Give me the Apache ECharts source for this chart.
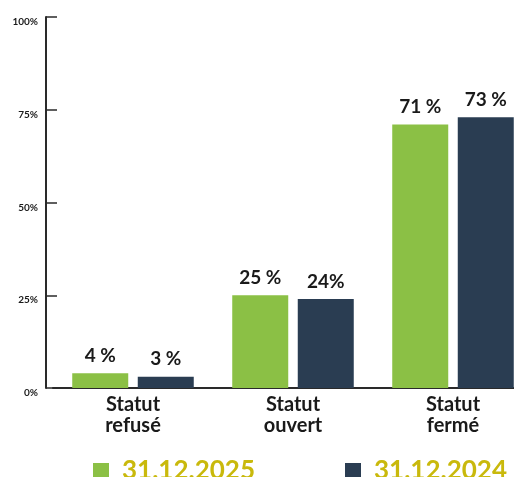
<!DOCTYPE html>
<html>
<head>
<meta charset="utf-8">
<script src="https://cdn.jsdelivr.net/npm/echarts@6/dist/echarts.min.js"></script>
<style>
  html, body { margin: 0; padding: 0; background: #fff; }
  #chart { width: 514px; height: 477px; }
</style>
</head>
<body>
<div id="chart"></div>
<script>
  var categories = ['Statut\nrefusé', 'Statut\nouvert', 'Statut\nfermé'];
  var values2025 = [4, 25, 71];
  var values2024 = [3, 24, 73];
  var labels2025 = ['4 %', '25 %', '71 %'];
  var labels2024 = ['3 %', '24%', '73 %'];
  var seriesNames = ['31.12.2025', '31.12.2024'];
  var yTicks = [0, 25, 50, 75, 100];

  var chart = echarts.init(document.getElementById('chart'));

  function barLabel(texts) {
    return {
      show: true,
      position: 'top',
      distance: 8,
      color: '#1a1a1a',
      fontFamily: 'Lato',
      fontWeight: 'bold',
      fontSize: 19,
      formatter: function (p) { return texts[p.dataIndex]; }
    };
  }

  chart.setOption({
    animation: false,
    textStyle: { fontFamily: 'Lato' },
    grid: { left: 53, width: 480, top: 17, bottom: 89, outerBoundsMode: 'none', containLabel: false },
    legend: {
      data: seriesNames,
      top: 458,
      left: 93,
      padding: 0,
      icon: 'rect',
      itemWidth: 16,
      itemHeight: 16,
      itemGap: 90,
      textStyle: { color: '#c9b90c', fontSize: 26, fontWeight: 'bold', fontFamily: 'Lato', padding: [0, 0, 0, 8] }
    },
    xAxis: {
      type: 'category',
      data: categories,
      axisLine: { lineStyle: { color: '#2a2a2a', width: 2 } },
      axisTick: { show: false },
      axisLabel: {
        color: '#1a1a1a',
        fontFamily: 'Lato',
        fontSize: 20,
        fontWeight: 'bold',
        lineHeight: 21,
        margin: 6
      }
    },
    yAxis: {
      type: 'value',
      min: yTicks[0],
      max: yTicks[yTicks.length - 1],
      interval: 25,
      offset: 7,
      axisLine: { show: true, lineStyle: { color: '#2a2a2a', width: 2 } },
      axisTick: { show: true, inside: true, length: 11, lineStyle: { color: '#2a2a2a', width: 1.5 } },
      splitLine: { show: false },
      axisLabel: {
        color: '#1a1a1a',
        fontFamily: 'Lato',
        fontSize: 10,
        fontWeight: 'bold',
        margin: 8,
        verticalAlign: 'top',
        formatter: '{value}%'
      }
    },
    series: [
      {
        name: seriesNames[0],
        type: 'bar',
        data: values2025,
        barWidth: 56,
        barGap: '17%',
        itemStyle: { color: '#8bc045' },
        label: barLabel(labels2025)
      },
      {
        name: seriesNames[1],
        type: 'bar',
        data: values2024,
        barWidth: 56,
        itemStyle: { color: '#2a3d52' },
        label: barLabel(labels2024)
      }
    ]
  });
</script>
</body>
</html>
